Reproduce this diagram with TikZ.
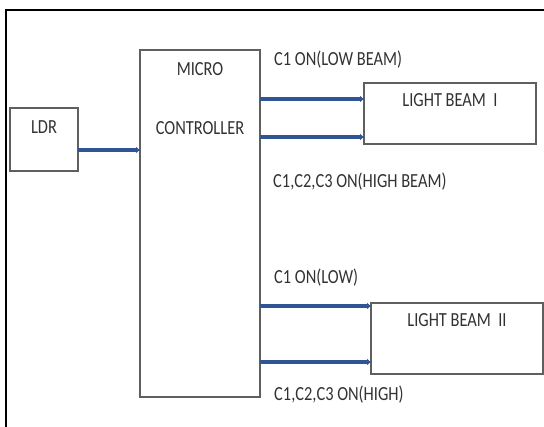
\documentclass[tikz,border=0pt]{standalone}
\usepackage{fontspec}
\setmainfont{Carlito}[FakeStretch=0.82]
\usetikzlibrary{
  positioning,
  arrows.meta
}
\definecolor{wireblue}{RGB}{47,85,151}
\definecolor{boxgray}{RGB}{95,95,95}
\definecolor{txtgray}{RGB}{50,50,50}

\begin{document}
\begin{tikzpicture}[
  x=1pt, y=-1pt,
  >={Latex[length=4pt,width=7pt]},
  box/.style={draw=boxgray, line width=1.5pt, fill=white,
              inner sep=0pt, outer sep=0pt},
  txt/.style={font=\fontsize{20}{22}\selectfont, text=txtgray,
              inner sep=0pt},
  lbl/.style={txt, anchor=west},
  arr/.style={->, line width=3.8pt, wireblue},
]
\useasboundingbox (0,0) rectangle (544,427);

% outer frame
\draw[line width=2.4pt] (6,430) -- (6,10) -- (548,10);

% blocks
\node[box, minimum width=68pt, minimum height=63pt] (ldr) at (44,139.5) {};
\node[box, minimum width=120pt, minimum height=347pt] (micro) at (200,223.5) {};
\node[box, minimum width=172pt, minimum height=61pt] (beamone) at (450,113.5) {};
\node[box, minimum width=172pt, minimum height=71pt] (beamtwo) at (457,338.5) {};

% block texts
\node[txt] (ldrtxt) at ([yshift=-19pt]ldr.north) {LDR};
\node[txt] (microtxt) at ([yshift=-19pt]micro.north) {MICRO};
\node[txt] (ctrltxt) at ([yshift=-78pt]micro.north) {CONTROLLER};
\node[txt] (beamonetxt) at ([yshift=-17pt]beamone.north) {LIGHT BEAM\ \ I};
\node[txt] (beamtwotxt) at ([yshift=-17pt]beamtwo.north) {LIGHT BEAM\ \ II};

% wires
\draw[arr] (ldr.east |- 0,150) -- (micro.west |- 0,150);
\draw[arr] (micro.east |- 0,99) -- (beamone.west |- 0,99);
\draw[arr] (micro.east |- 0,137) -- (beamone.west |- 0,137);
\draw[arr] (micro.east |- 0,306) -- (beamtwo.west |- 0,306);
\draw[arr] (micro.east |- 0,362) -- (beamtwo.west |- 0,362);

% signal labels
\node[lbl] (lowone) at (274,60) {C1 ON(LOW BEAM)};
\node[lbl] (highone) at (273,182) {C1,C2,C3 ON(HIGH BEAM)};
\node[lbl] (lowtwo) at (274,278) {C1 ON(LOW)};
\node[lbl] (hightwo) at (274,395) {C1,C2,C3 ON(HIGH)};

\end{tikzpicture}
\end{document}
